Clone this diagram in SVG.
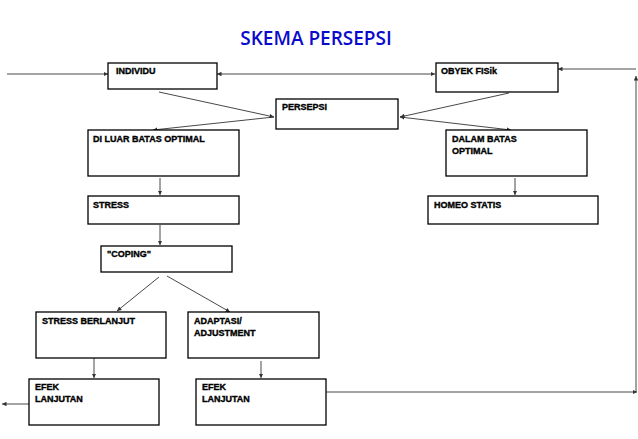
<svg xmlns="http://www.w3.org/2000/svg" width="638" height="439" viewBox="0 0 638 439">
<style>
.b{fill:#fff;stroke:#000;stroke-width:1.3}
.t{font-family:"Liberation Sans",Arial,sans-serif;font-weight:bold;font-size:9px;fill:#000;stroke:#000;stroke-width:0.35}
.c line{stroke:#333;stroke-width:0.9;fill:none}
</style>
<defs><marker id="a" viewBox="0 0 6 6" refX="6" refY="3" markerWidth="5" markerHeight="5" orient="auto-start-reverse"><path d="M0,0L6,3L0,6z" fill="#333"/></marker></defs>
<rect width="638" height="439" fill="#fff"/>
<text x="316" y="45" text-anchor="middle" font-family="'Open Sans','Noto Sans',sans-serif" font-size="19" font-weight="600" fill="#0a0acc">SKEMA PERSEPSI</text>
<g class="c">
<line x1="7" y1="74" x2="108" y2="74" marker-end="url(#a)"/>
<line x1="217" y1="74" x2="435" y2="74" marker-start="url(#a)" marker-end="url(#a)"/>
<line x1="636" y1="69" x2="558" y2="69" marker-end="url(#a)"/>
<line x1="636" y1="392" x2="636" y2="76" marker-end="url(#a)"/>
<line x1="159" y1="92" x2="274" y2="117" marker-end="url(#a)"/>
<line x1="274" y1="117" x2="153" y2="130" marker-end="url(#a)"/>
<line x1="509" y1="93" x2="400" y2="117" marker-end="url(#a)"/>
<line x1="400" y1="117" x2="511" y2="130" marker-start="url(#a)" marker-end="url(#a)"/>
<line x1="160" y1="178" x2="160" y2="195" marker-end="url(#a)"/>
<line x1="515" y1="178" x2="515" y2="195" marker-end="url(#a)"/>
<line x1="160" y1="225" x2="160" y2="245" marker-end="url(#a)"/>
<line x1="159" y1="277" x2="117" y2="311" marker-end="url(#a)"/>
<line x1="167" y1="276" x2="230" y2="312" marker-end="url(#a)"/>
<line x1="94" y1="355" x2="94" y2="378" marker-end="url(#a)"/>
<line x1="261" y1="361" x2="261" y2="378" marker-end="url(#a)"/>
<line x1="33" y1="404" x2="2" y2="404" marker-end="url(#a)"/>
<line x1="326" y1="392" x2="637" y2="392" marker-end="url(#a)"/>
</g>
<g id="individu"><rect class="b" x="108" y="63" width="109" height="26"/><text class="t" x="116" y="74">INDIVIDU</text></g>
<g id="obyek"><rect class="b" x="436" y="63" width="122" height="29"/><text class="t" x="441" y="74">OBYEK FISik</text></g>
<g id="persepsi"><rect class="b" x="276" y="99" width="122" height="30"/><text class="t" x="282" y="110">PERSEPSI</text></g>
<g id="diluar"><rect class="b" x="88" y="130" width="151" height="46"/><text class="t" x="93" y="142">DI LUAR BATAS OPTIMAL</text></g>
<g id="dalam"><rect class="b" x="446" y="130" width="141" height="46"/><text class="t" x="452" y="142">DALAM BATAS</text><text class="t" x="452" y="154">OPTIMAL</text></g>
<g id="stress"><rect class="b" x="88" y="196" width="151" height="28"/><text class="t" x="93" y="208">STRESS</text></g>
<g id="homeo"><rect class="b" x="428" y="196" width="170" height="28"/><text class="t" x="434" y="208">HOMEO STATIS</text></g>
<g id="coping"><rect class="b" x="101" y="246" width="131" height="26"/><text class="t" x="107" y="257">"COPING"</text></g>
<g id="berlanjut"><rect class="b" x="36" y="312" width="130" height="46"/><text class="t" x="42" y="324">STRESS BERLANJUT</text></g>
<g id="adaptasi"><rect class="b" x="188" y="312" width="131" height="46"/><text class="t" x="194" y="324">ADAPTASI/</text><text class="t" x="194" y="336">ADJUSTMENT</text></g>
<g id="efek1"><rect class="b" x="29" y="379" width="130" height="46"/><text class="t" x="35" y="390">EFEK</text><text class="t" x="35" y="402">LANJUTAN</text></g>
<g id="efek2"><rect class="b" x="196" y="379" width="130" height="46"/><text class="t" x="202" y="390">EFEK</text><text class="t" x="202" y="402">LANJUTAN</text></g>
</svg>
